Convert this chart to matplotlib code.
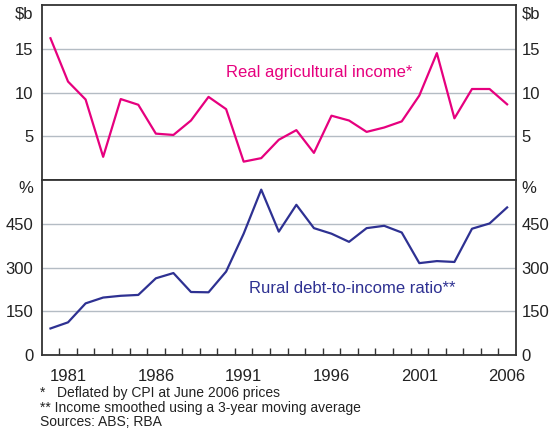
import matplotlib
matplotlib.use('agg')
import matplotlib.pyplot as plt
from matplotlib.ticker import FixedLocator

plt.rcParams['font.family'] = ['Liberation Sans', 'DejaVu Sans']

# financial years, plotted at mid-year
years = list(range(1980, 2007))
income = [16.2, 11.25, 9.2, 2.65, 9.25, 8.6, 5.3, 5.15, 6.8, 9.5, 8.1, 2.1, 2.5,
          4.6, 5.7, 3.1, 7.35, 6.8, 5.5, 6.0, 6.7, 9.65, 14.5, 7.05, 10.4, 10.4, 8.65]
debt_ratio = [91, 112, 177, 197, 203, 206, 263, 281, 216, 215, 286, 416, 567,
              423, 515, 435, 416, 388, 435, 443, 420, 315, 322, 319, 433, 451, 506]
label_years = [1981, 1986, 1991, 1996, 2001, 2006]
top_ticks = [5, 10, 15]
bottom_ticks = [0, 150, 300, 450]

PINK = '#e6007e'
NAVY = '#2e3192'
GRID = '#b4bcc4'
FRAME = '#333333'
TXT = '#222222'

fig = plt.figure(figsize=(5.5, 4.38), dpi=100)
left, right = 0.0758, 0.938
ax1 = fig.add_axes([left, 0.589, right - left, 0.9886 - 0.589])
ax2 = fig.add_axes([left, 0.1895, right - left, 0.589 - 0.1895])

xs = [y + 0.5 for y in years]


def style_axes(ax, ylim, ticks, unit):
    ax.set_xlim(1980, 2007)
    ax.set_ylim(*ylim)
    ax.set_yticks(ticks)
    for s in ax.spines.values():
        s.set_color(FRAME)
        s.set_linewidth(1.3)
    ax.tick_params(axis='y', length=0, labelsize=12, pad=6, colors=TXT)
    ax.grid(axis='y', color=GRID, linewidth=1.0)
    ax.set_axisbelow(True)
    # right-hand labels on a twin, tighter pad so they fit
    tw = ax.twinx()
    tw.set_ylim(*ylim)
    tw.set_yticks(ticks)
    tw.tick_params(axis='y', length=0, labelsize=12, pad=4, colors=TXT)
    for s in tw.spines.values():
        s.set_visible(False)
    ax.text(-0.018, 0.95, unit, transform=ax.transAxes, fontsize=12,
            ha='right', va='center', color=TXT)
    ax.text(1.012, 0.95, unit, transform=ax.transAxes, fontsize=12,
            ha='left', va='center', color=TXT)


style_axes(ax1, (0, 20), top_ticks, '$b')
ax1.plot(xs, income, color=PINK, linewidth=1.6)
ax1.set_xticks([])
ax1.text(1995.8, 12.3, 'Real agricultural income*', color=PINK, fontsize=12,
         ha='center', va='center')

style_axes(ax2, (0, 600), bottom_ticks, '%')
ax2.plot(xs, debt_ratio, color=NAVY, linewidth=1.6)
ax2.text(1997.7, 228, 'Rural debt-to-income ratio**', color=NAVY, fontsize=12,
         ha='center', va='center')

ax2.set_xticks([y + 0.5 for y in label_years])
ax2.set_xticklabels([str(y) for y in label_years])
ax2.xaxis.set_minor_locator(FixedLocator(list(range(1981, 2007))))
ax2.tick_params(axis='x', which='major', length=0, labelsize=12, pad=10,
                colors=TXT)
ax2.tick_params(axis='x', which='minor', direction='in', length=5,
                width=1.0, color=FRAME)

notes = ['*   Deflated by CPI at June 2006 prices',
         '** Income smoothed using a 3-year moving average',
         'Sources: ABS; RBA']
for i, line in enumerate(notes):
    fig.text(0.073, 0.102 - i * 0.0324, line, fontsize=10, ha='left',
             va='center', color=TXT)

fig.savefig('out.png', dpi=100)
plt.close(fig)
